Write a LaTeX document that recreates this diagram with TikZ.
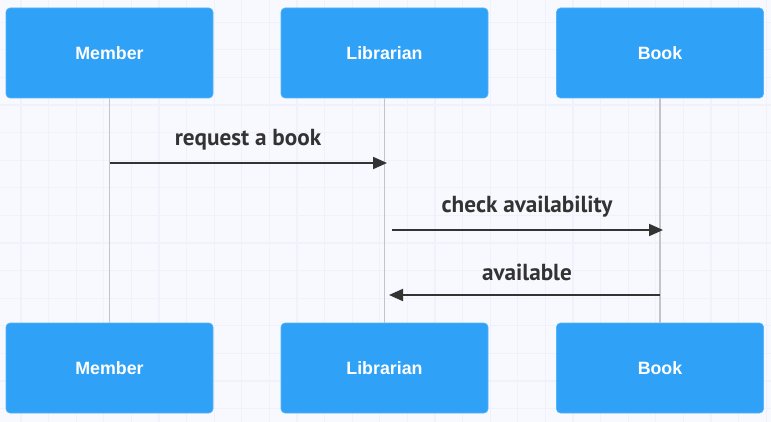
\documentclass[tikz,border=0pt]{standalone}
\usepackage{fontspec}
\setmainfont{Liberation Sans}
\newfontfamily\msgfont{PT Sans}
\usetikzlibrary{arrows.meta, positioning}
\definecolor{actorblue}{HTML}{2FA1F7}
\definecolor{canvas}{HTML}{F8F9FF}
\definecolor{gridline}{HTML}{EFF1FB}
\definecolor{lifegray}{HTML}{C4C4C8}
\definecolor{ink}{HTML}{333333}

\begin{document}
\begin{tikzpicture}[x=1pt, y=-1pt,
    actor/.style={rectangle, rounded corners=4pt, fill=actorblue, draw=actorblue!80!white, line width=0.6pt, minimum width=207pt, minimum height=90pt, font=\fontsize{17.8}{20}\selectfont\bfseries, text=white},
    lifeline/.style={draw=lifegray, line width=1.4pt},
    msg/.style={-{Triangle[length=14pt, width=12pt]}, draw=ink, line width=2pt},
    msglabel/.style={font=\msgfont\fontsize{23.2}{26}\selectfont\bfseries, text=ink},
  ]
  % canvas and grid
  \fill[canvas] (0,0) rectangle (771,422);
  \useasboundingbox (0,0) rectangle (771,422);
  \foreach \gx in {0,...,27} {
    \draw[gridline, line width=1.2pt] (21+27.6*\gx,0) -- (21+27.6*\gx,422);
  }
  \foreach \gy in {0,...,15} {
    \draw[gridline, line width=1.2pt] (0,22.2+27.6*\gy) -- (771,22.2+27.6*\gy);
  }

  % actors, top
  \node[actor] (membertop) at (109.5,53) {Member};
  \node[actor] (librariantop) at (384.5,53) {Librarian};
  \node[actor] (booktop) at (660,53) {Book};

  % actors, bottom
  \node[actor] (memberbot) at (109.5,368) {Member};
  \node[actor] (librarianbot) at (384.5,368) {Librarian};
  \node[actor] (bookbot) at (660,368) {Book};

  % lifelines
  \draw[lifeline] (membertop.south) -- (memberbot.north);
  \draw[lifeline] (librariantop.south) -- (librarianbot.north);
  \draw[lifeline] (booktop.south) -- (bookbot.north);

  % messages
  \coordinate (reqstart) at (110,163);
  \coordinate (reqend) at (387,163);
  \draw[msg] (reqstart) -- (reqend);
  \node[msglabel] (reqlabel) at (248,140) {request a book};

  \coordinate (chkstart) at (392,230);
  \coordinate (chkend) at (663,230);
  \draw[msg] (chkstart) -- (chkend);
  \node[msglabel] (chklabel) at (527,207) {check availability};

  \coordinate (avlstart) at (660,295);
  \coordinate (avlend) at (389,295);
  \draw[msg] (avlstart) -- (avlend);
  \node[msglabel] (avllabel) at (527,272) {available};
\end{tikzpicture}
\end{document}
